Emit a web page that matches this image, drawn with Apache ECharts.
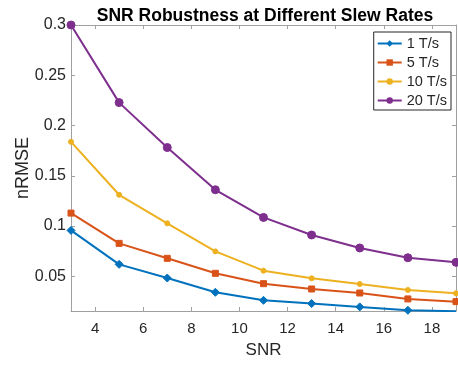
<!DOCTYPE html>
<html>
<head>
<meta charset="utf-8">
<script src="https://cdn.jsdelivr.net/npm/echarts@6/dist/echarts.min.js"></script>
<style>
html, body { margin: 0; padding: 0; background: #fff; }
#chart { width: 458px; height: 365px; }
</style>
</head>
<body>
<div id="chart"></div>
<script>
// SNR 对比 (x 轴)
var snr = [3, 5, 7, 9, 11, 13, 15, 17, 19];

// 各压摆率下的 nRMSE
var rate1 = [0.0957, 0.0619, 0.0483, 0.0341, 0.0261, 0.0229, 0.0196, 0.0162, 0.0153];
var rate5 = [0.1129, 0.0828, 0.0679, 0.0530, 0.0427, 0.0374, 0.0334, 0.0275, 0.0248];
var rate10 = [0.1838, 0.1311, 0.1027, 0.0748, 0.0556, 0.0480, 0.0424, 0.0364, 0.0331];
var rate20 = [0.3000, 0.2228, 0.1781, 0.1361, 0.1086, 0.0911, 0.0782, 0.0685, 0.0639];

var seriesNames = ['1 T/s', '5 T/s', '10 T/s', '20 T/s'];
var colors = ['#0072BD', '#D95319', '#EDB120', '#7E2F8E'];
var symbols = ['diamond', 'rect', 'circle', 'circle'];
var symbolSizes = [8, 6, 5, 8];

function pairs(ys) {
    return snr.map(function (x, i) { return [x, ys[i]]; });
}

var axisColor = '#a0a0a0';
var textColor = '#262626';
var font = 'Liberation Sans, Arial, sans-serif';

var chart = echarts.init(document.getElementById('chart'));
var option = {
    backgroundColor: '#fff',
    animation: false,
    textStyle: { fontFamily: font },
    title: {
        text: 'SNR Robustness at Different Slew Rates',
        left: 260,
        textAlign: 'center',
        top: 2,
        textStyle: { fontSize: 17.5, fontWeight: 'bold', color: '#000', fontFamily: font }
    },
    legend: {
        orient: 'vertical',
        right: 7,
        top: 32,
        data: seriesNames,
        backgroundColor: '#fff',
        borderColor: '#262626',
        borderWidth: 1,
        padding: [3, 4, 1, 3],
        itemWidth: 24,
        itemHeight: 8,
        itemGap: 2,
        textStyle: { fontSize: 14.5, lineHeight: 17, color: textColor, fontFamily: font }
    },
    grid: {
        left: 71,
        right: 2,
        top: 25,
        bottom: 54
    },
    xAxis: [
        {
            type: 'value',
            min: 3,
            max: 19,
            splitNumber: 8,
            name: 'SNR',
            nameLocation: 'middle',
            nameGap: 31,
            nameTextStyle: { fontSize: 17, color: textColor, fontFamily: font },
            axisLine: { lineStyle: { color: axisColor, width: 1 } },
            axisTick: { inside: true, length: 4, lineStyle: { color: axisColor } },
            axisLabel: { showMinLabel: false, showMaxLabel: false, fontSize: 15, color: textColor, margin: 10 },
            splitLine: { show: false }
        },
        {
            type: 'value',
            position: 'top',
            min: 3,
            max: 19,
            splitNumber: 8,
            axisLine: { lineStyle: { color: axisColor, width: 1 } },
            axisTick: { inside: true, length: 4, lineStyle: { color: axisColor } },
            axisLabel: { show: false },
            splitLine: { show: false }
        }
    ],
    yAxis: [
        {
            type: 'value',
            min: 0.0155,
            max: 0.3,
            splitNumber: 5,
            name: 'nRMSE',
            nameLocation: 'middle',
            nameGap: 39,
            nameMoveOverlap: false,
            nameTextStyle: { fontSize: 18, color: textColor, fontFamily: font },
            axisLine: { show: true, lineStyle: { color: axisColor, width: 1 } },
            axisTick: { show: true, inside: true, length: 4, lineStyle: { color: axisColor } },
            axisLabel: { showMinLabel: false, fontSize: 16, color: textColor, margin: 5 },
            splitLine: { show: false }
        },
        {
            type: 'value',
            position: 'right',
            min: 0.0155,
            max: 0.3,
            splitNumber: 5,
            axisLine: { show: true, lineStyle: { color: axisColor, width: 1 } },
            axisTick: { show: true, inside: true, length: 4, lineStyle: { color: axisColor } },
            axisLabel: { show: false },
            splitLine: { show: false }
        }
    ],
    series: [rate1, rate5, rate10, rate20].map(function (ys, i) {
        return {
            name: seriesNames[i],
            type: 'line',
            data: pairs(ys),
            symbol: symbols[i],
            symbolSize: symbolSizes[i],
            showAllSymbol: true,
            clip: true,
            lineStyle: { color: colors[i], width: 2 },
            itemStyle: { color: colors[i], borderColor: colors[i] }
        };
    })
};
chart.setOption(option);
</script>
</body>
</html>
